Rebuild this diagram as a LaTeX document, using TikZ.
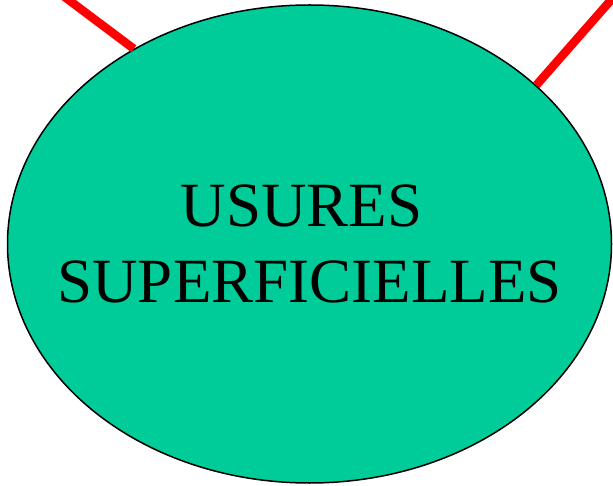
\documentclass[tikz,border=0pt]{standalone}
\usepackage{fontspec}
\setmainfont{Liberation Serif}
\usetikzlibrary{shapes.geometric}
\definecolor{usuregreen}{HTML}{00CC99}
\tikzset{
  blob/.style={
    draw, ellipse, fill=usuregreen, line width=1.5pt,
    minimum width=604pt, minimum height=478pt, inner sep=0pt,
  },
  title/.style={align=center, font=\fontsize{63}{76}\selectfont},
  link/.style={draw=red, line width=8.5pt},
}

\begin{document}
\begin{tikzpicture}[x=1pt, y=-1pt]

\clip (0,0) rectangle (613,486);

\node[blob] (usure) at (309.5,244) {};
\node[title] (usure text) at (usure.center) {USURES\kern16pt\\SUPERFICIELLES};

% free ends above the frame
\coordinate (up left) at (34,-26);
\coordinate (up right) at (647,-41);

\draw[link] (usure.132.6) -- (up left);
\draw[link] (usure.35.5) -- (up right);

\end{tikzpicture}
\end{document}
